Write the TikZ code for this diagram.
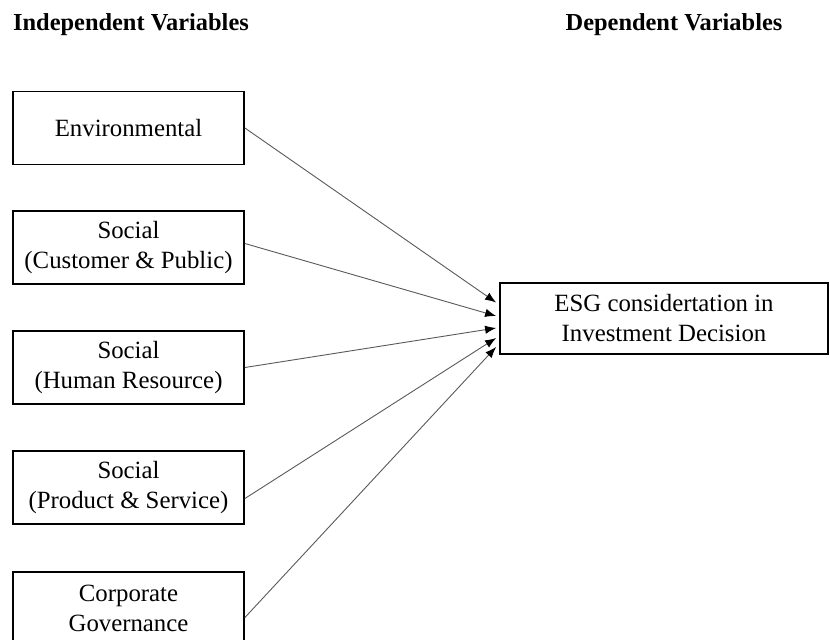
\documentclass[tikz,border=0pt]{standalone}
\usepackage{fontspec}
\setmainfont{Liberation Serif}
\usetikzlibrary{arrows.meta,calc}
\tikzset{
  varbox/.style={draw, line width=0.9pt, align=center, inner sep=2pt,
    minimum width=115.5pt, minimum height=36.5pt,
    font=\fontsize{12.4}{15}\selectfont},
  headtext/.style={font=\fontsize{12.2}{15}\selectfont\bfseries, inner sep=0pt},
  link/.style={draw=black!65, line width=0.45pt,
    -{Latex[length=5.5pt,width=4.2pt,fill=black,color=black]}}
}

\begin{document}
\begin{tikzpicture}[x=0.5pt,y=-0.5pt]
  \clip (0,0) rectangle (830,639);
  % Column headings
  \node[headtext] (indep) at (131,25) {Independent Variables};
  \node[headtext] (dep) at (674,25) {Dependent Variables};
  % Independent variables
  \node[varbox] (env) at (128.5,128) {Environmental};
  \node[varbox] (socCust) at (128.5,247.5) {Social\\(Customer \& Public)};
  \node[varbox] (socHR) at (128.5,367.5) {Social\\(Human Resource)};
  \node[varbox] (socProd) at (128.5,487.5) {Social\\(Product \& Service)};
  \node[varbox] (gov) at (128.5,608.5) {Corporate\\Governance};
  % Dependent variable
  \node[varbox, minimum width=164pt, minimum height=35.5pt] (esg) at (664,318.5)
    {ESG considertation in\\Investment Decision};
  % Links
  \draw[link] (env.east) -- ($(esg.west)+(-3,-16)$);
  \draw[link] ($(socCust.east)+(0,-4)$) -- ($(esg.west)+(-3,-2.5)$);
  \draw[link] (socHR.east) -- ($(esg.west)+(-3,9.5)$);
  \draw[link] ($(socProd.east)+(0,11)$) -- ($(esg.west)+(-3,19.5)$);
  \draw[link] ($(gov.east)+(0,9)$) -- ($(esg.west)+(-3,28.5)$);
\end{tikzpicture}
\end{document}
